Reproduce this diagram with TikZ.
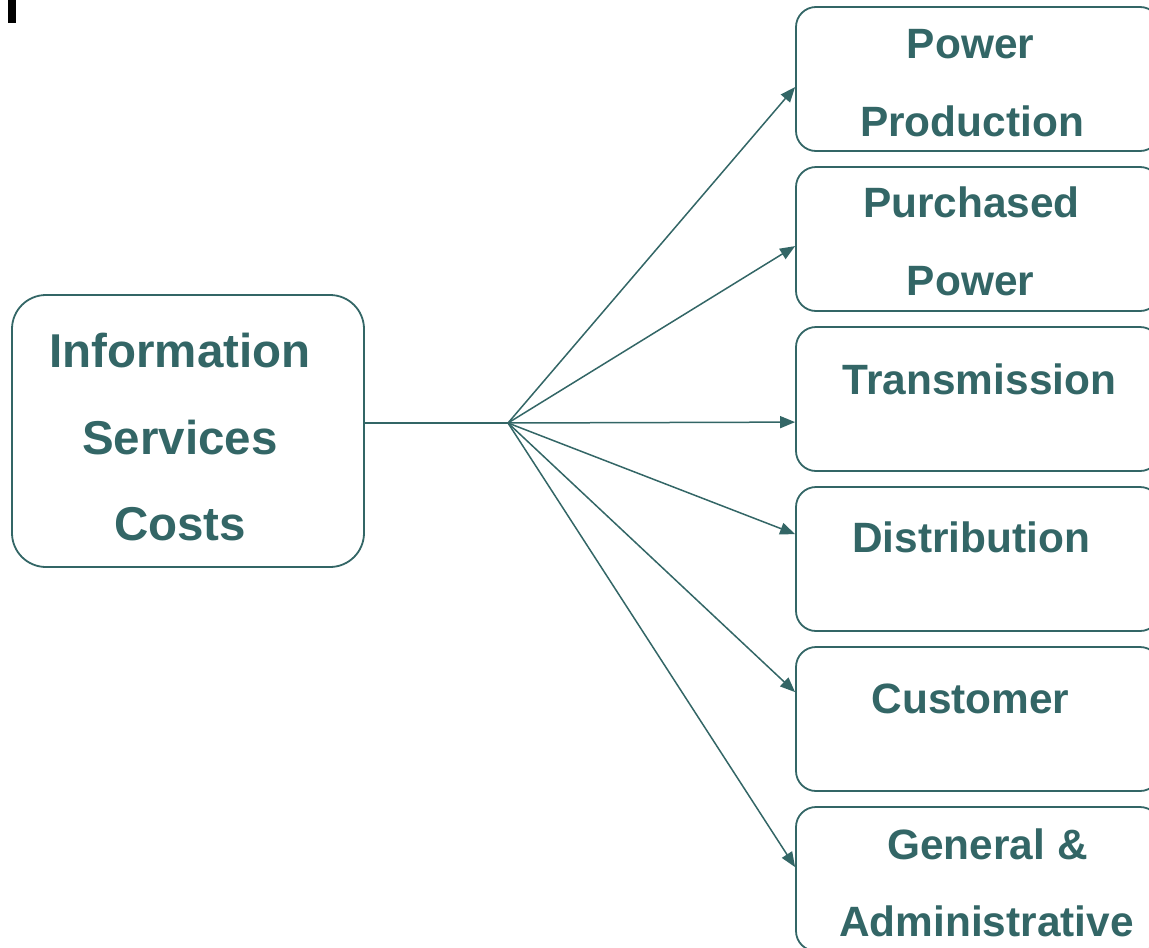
\documentclass[tikz,border=0pt]{standalone}
\usepackage{fontspec}
\setmainfont{Liberation Sans}
\usetikzlibrary{arrows.meta}
\definecolor{teal}{HTML}{336666}
\begin{document}
\begin{tikzpicture}[x=1pt,y=-1pt,
  rbox/.style={draw=teal,line width=1.8pt,rounded corners=20pt,minimum width=364pt,minimum height=144pt,inner sep=0pt},
  lbox/.style={draw=teal,line width=1.8pt,rounded corners=34pt,minimum width=352pt,minimum height=272pt,inner sep=0pt},
  rtxt/.style={anchor=base,inner sep=0pt,text=teal,font=\fontsize{42.4}{50}\selectfont\bfseries},
  ltxt/.style={anchor=base,inner sep=0pt,text=teal,font=\fontsize{47.5}{55}\selectfont\bfseries},
  arr/.style={draw=teal,line width=1.5pt,-{Triangle[length=15pt,width=12pt]}},
  link/.style={draw=teal,line width=1.5pt}]
\useasboundingbox (0,0) rectangle (1149,948);
\fill[black] (8,0) rectangle (16,23);
% left box
\node[lbox] (src) at (188,431) {};
\node[ltxt] (s1) at (180,367) {Information};
\node[ltxt] (s2) at (180,454) {Services};
\node[ltxt] (s3) at (180,540) {Costs};
% right boxes
\node[rbox] (b1) at (978,79) {};
\node[rbox] (b2) at (978,239) {};
\node[rbox] (b3) at (978,399) {};
\node[rbox] (b4) at (978,559) {};
\node[rbox] (b5) at (978,719) {};
\node[rbox] (b6) at (978,879) {};
\node[rtxt] (t1a) at (970.5,58) {Power};
\node[rtxt] (t1b) at (972,136) {Production};
\node[rtxt] (t2a) at (971.5,217) {Purchased};
\node[rtxt] (t2b) at (970.5,295) {Power};
\node[rtxt] (t3) at (979.5,394) {Transmission};
\node[rtxt] (t4) at (971,552) {Distribution};
\node[rtxt] (t5) at (970.5,713) {Customer};
\node[rtxt] (t6a) at (987.5,859) {General \&};
\node[rtxt] (t6b) at (986.5,936) {Administrative};
% connectors
\coordinate (hub) at (508,423);
\draw[link] (src.east |- hub) -- (hub);
\draw[arr] (hub) -- ([yshift=-81pt]b1.north west);
\draw[arr] (hub) -- ([yshift=-80pt]b2.north west);
\draw[arr] (hub) -- ([yshift=-96pt]b3.north west);
\draw[arr] (hub) -- ([yshift=-48pt]b4.north west);
\draw[arr] (hub) -- ([yshift=-46pt]b5.north west);
\draw[arr] (hub) -- ([yshift=-61pt]b6.north west);
\end{tikzpicture}
\end{document}
